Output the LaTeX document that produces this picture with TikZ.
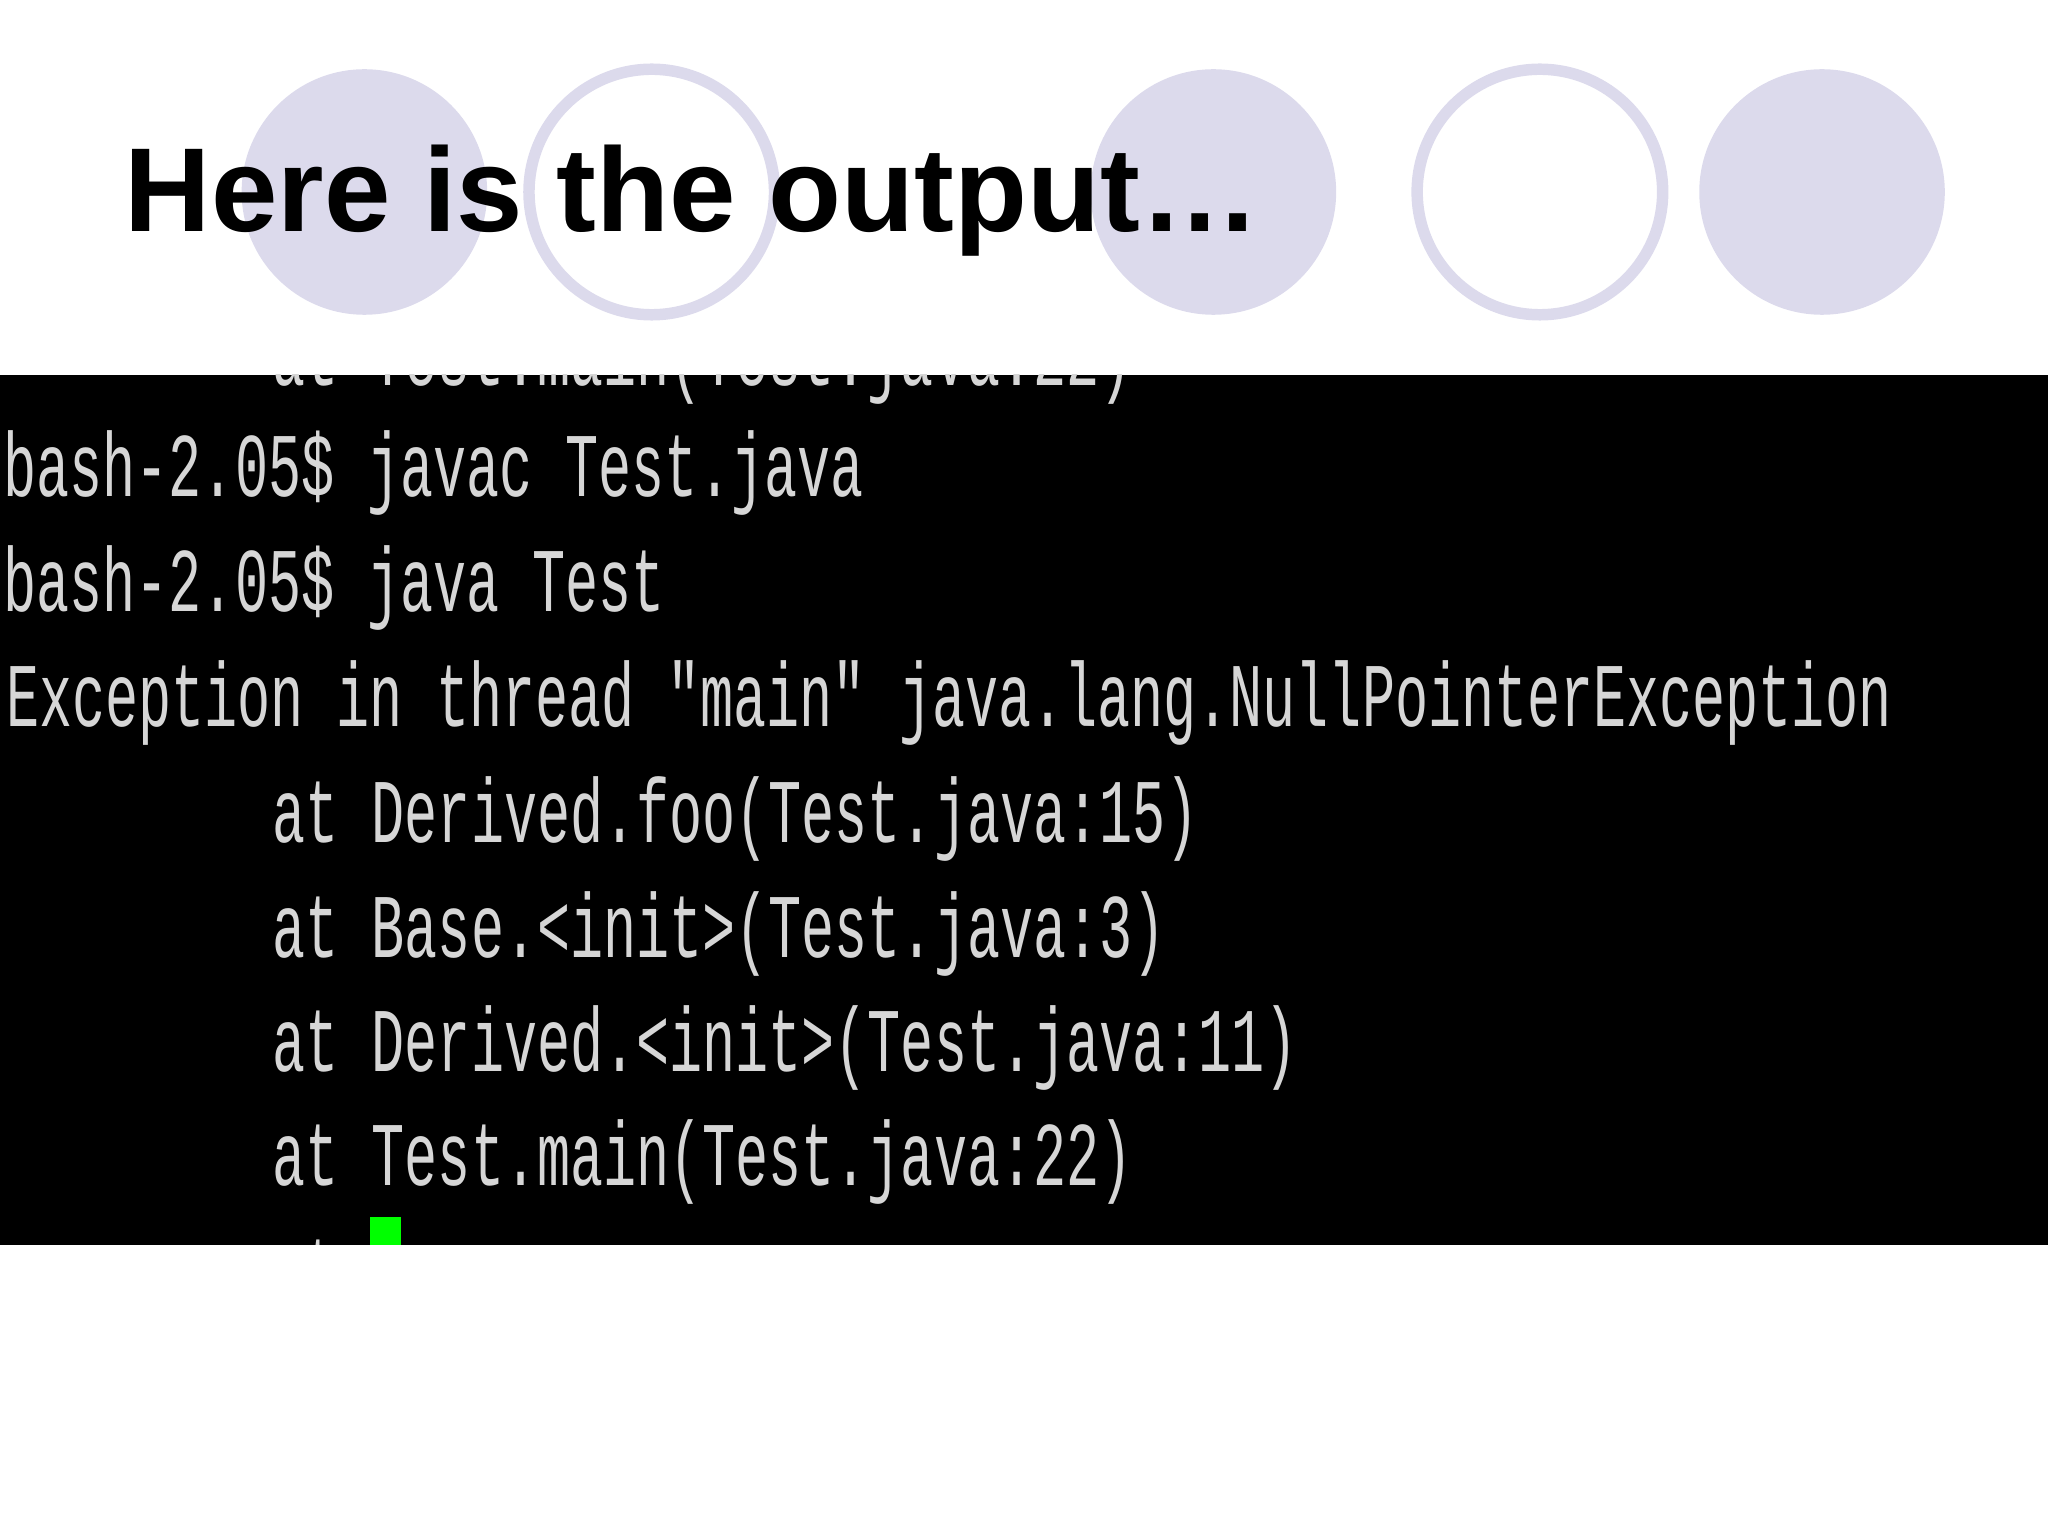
\documentclass[tikz,border=0pt]{standalone}
\usepackage{fontspec}
\setmainfont{Liberation Sans}
\newfontfamily\termfont{Liberation Mono}
\usetikzlibrary{positioning}
\definecolor{lavender}{HTML}{DCDAEC}
\definecolor{termgray}{HTML}{D6D6D6}
\tikzset{dot/.style={fill=lavender,draw=lavender,line width=2pt},
  ring/.style={draw=lavender,line width=2.5pt,fill=white},
  term/.style={anchor=base west,inner sep=0pt,text=termgray,
    font=\termfont\fontsize{12pt}{12pt}\selectfont,yscale=1.65,transform shape}}
\begin{document}
\begin{tikzpicture}[x=0.01cm,y=-0.01cm]
  \useasboundingbox (0,0) rectangle (1568,1176);
  % circles
  \fill[lavender] (279,147) circle (94);
  \draw[ring] (499,147) circle (94);
  \fill[lavender] (929,147) circle (94);
  \draw[ring] (1179,147) circle (94);
  \fill[lavender] (1395,147) circle (94);
  \node[anchor=base west,inner sep=0pt,font=\bfseries\fontsize{26pt}{26pt}\selectfont] (title) at (95,177) {Here is the output\ldots};
  % terminal
  \fill[black] (0,287) rectangle (1568,953);
  \begin{scope}
    \clip (0,287) rectangle (1568,953);
    \node[term] (l0) at (208,295) {at Test.main(Test.java:22)};
    \node[term] (l1) at (2,380) {bash-2.05\$ javac Test.java};
    \node[term] (l2) at (2,468) {bash-2.05\$ java Test};
    \node[term] (l3) at (4,556) {Exception in thread "main" java.lang.NullPointerException};
    \node[term] (l4) at (208,645) {at Derived.foo(Test.java:15)};
    \node[term] (l5) at (208,733) {at Base.<init>(Test.java:3)};
    \node[term] (l6) at (208,820) {at Derived.<init>(Test.java:11)};
    \node[term] (l7) at (208,908) {at Test.main(Test.java:22)};
    \node[term] (l8) at (208,996) {at};
    \fill[green] (283,932) rectangle (307,953);
  \end{scope}
\end{tikzpicture}
\end{document}
